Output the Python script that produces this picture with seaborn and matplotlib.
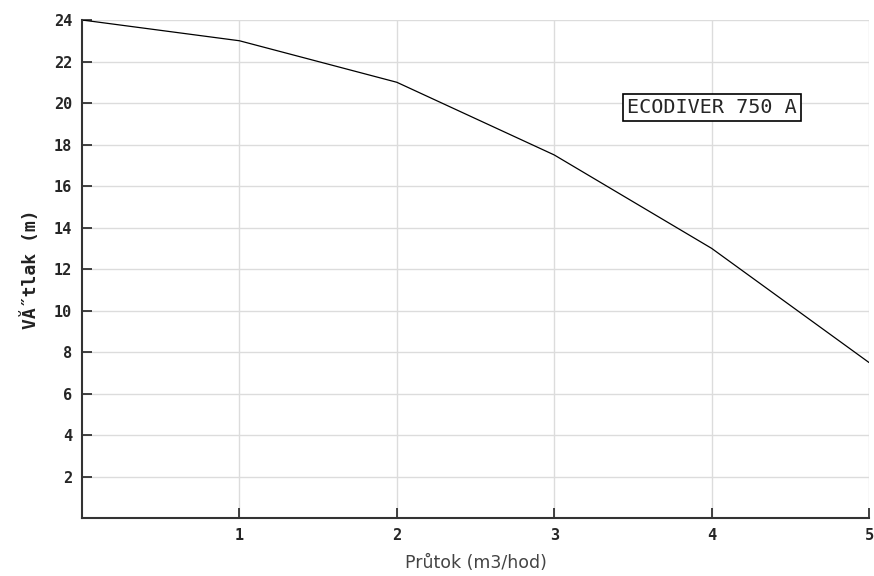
import matplotlib
matplotlib.use('Agg')
import matplotlib.pyplot as plt
import seaborn as sns
import pandas as pd

# Pump curve values
flow = [0, 1, 2, 3, 4, 5]
head = [24, 23, 21, 17.5, 13, 7.5]
x_ticks = [1, 2, 3, 4, 5]
y_ticks = [2, 4, 6, 8, 10, 12, 14, 16, 18, 20, 22, 24]

df = pd.DataFrame({'Průtok': flow, 'Výtlak': head})

sns.set_style('white')
plt.rcParams['font.family'] = ['DejaVu Sans']

fig = plt.figure(figsize=(8.74, 5.76), dpi=100)
ax = fig.add_axes([0.0938, 0.1003, 0.9005, 0.8650])

sns.lineplot(data=df, x='Průtok', y='Výtlak', color='black', linewidth=0.9, ax=ax)

ax.set_xlim(0, 5)
ax.set_ylim(0, 24)
ax.set_xticks(x_ticks)
ax.set_yticks(y_ticks)
ax.grid(True, color='#dcdcdc', linewidth=1)
ax.set_axisbelow(True)

for side in ['top', 'right']:
    ax.spines[side].set_visible(False)
for side in ['left', 'bottom']:
    ax.spines[side].set_color('#333333')
    ax.spines[side].set_linewidth(1.5)

ax.tick_params(axis='both', direction='in', length=7, width=1.2, color='#222222',
               labelsize=11, pad=7, bottom=True, left=True)
for lbl in ax.get_xticklabels() + ax.get_yticklabels():
    lbl.set_fontweight('bold')
    lbl.set_family('DejaVu Sans Mono')

ax.set_xlabel('Průtok (m3/hod)', fontsize=12.5, color='#444444', labelpad=8)
ax.set_ylabel('VĂ˝tlak (m)', fontsize=13, fontweight='bold', family='DejaVu Sans Mono',
              color='#222222', labelpad=10)

ax.text(4.0, 19.8, 'ECODIVER 750 A', fontsize=14.5, family='DejaVu Sans Mono',
        ha='center', va='center',
        bbox=dict(boxstyle='square,pad=0.2', facecolor='white', edgecolor='black', linewidth=1.2))

fig.savefig('out.png', dpi=100)
